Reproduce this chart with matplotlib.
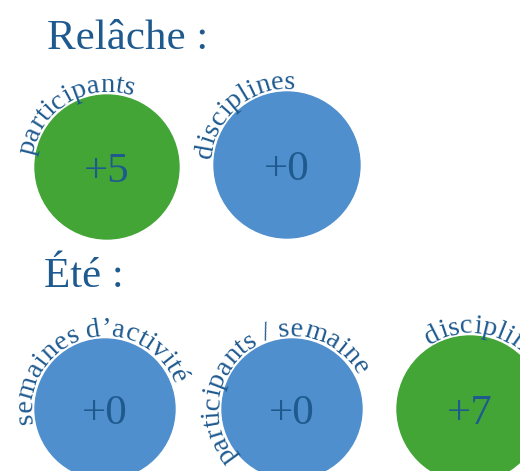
import numpy as np
import matplotlib
matplotlib.use("Agg")
from matplotlib import pyplot as plt
from matplotlib.patches import Circle
from matplotlib.font_manager import FontProperties

# Data
sections = ["Relâche :", "Été :"]
relache_labels = ["participants", "disciplines"]
relache_values = [5, 0]
ete_labels = ["semaines d\u2019activité", "participants / semaine", "disciplines"]
ete_values = [0, 0, 7]

# Layout (pixels, y down)
title_pos = [(47, 49), (44, 287)]
relache_centers = [(107, 167), (287, 165)]
relache_radii = [72, 73]
relache_start = [166, 170]
ete_centers = [(105, 409), (292, 409), (470, 409)]
ete_radii = [70, 70, 73]
ete_start = [187, 216, 117]

GREEN = "#42a536"
BLUE = "#4f8fcd"
TEXT = "#1f5a8f"
FONT = "Liberation Serif"

fig = plt.figure(figsize=(5.2, 4.71), dpi=100)
ax = fig.add_axes([0, 0, 1, 1])
ax.set_xlim(0, 520)
ax.set_ylim(471, 0)
ax.axis("off")

renderer = fig.canvas.get_renderer()
label_prop = FontProperties(family=FONT, size=20.5)


def text_width(s):
    w, h, d = renderer.get_text_width_height_descent(s, label_prop, ismath=False)
    return w


def curved_label(text, cx, cy, rb, start_deg, tracking=0.0):
    widths = []
    for ch in text:
        if ch == " ":
            widths.append(text_width("a a") - text_width("aa"))
        else:
            widths.append(text_width(ch))
    pos = 0.0
    first_half = widths[0] / 2
    for ch, w in zip(text, widths):
        s = pos + w / 2 - first_half
        theta = np.radians(start_deg) - s / rb
        x = cx + rb * np.cos(theta)
        y = cy - rb * np.sin(theta)
        if ch != " ":
            ax.text(x, y, ch, fontproperties=label_prop, color=TEXT,
                    ha="center", va="baseline",
                    rotation=np.degrees(theta) - 90, rotation_mode="anchor")
        pos += w + tracking


def bubble(label, value, center, r, start):
    cx, cy = center
    color = GREEN if value > 0 else BLUE
    ax.add_patch(Circle((cx, cy), r, color=color, zorder=1))
    ax.text(cx, cy, f"+{value}", family=FONT, size=31, color=TEXT,
            ha="center", va="center_baseline", zorder=2)
    curved_label(label, cx, cy, r + 3, start)


for (tx, ty), title in zip(title_pos, sections):
    ax.text(tx, ty, title, family=FONT, size=31, color=TEXT,
            ha="left", va="baseline")

for lab, val, c, r, st in zip(relache_labels, relache_values,
                              relache_centers, relache_radii, relache_start):
    bubble(lab, val, c, r, st)

for lab, val, c, r, st in zip(ete_labels, ete_values,
                              ete_centers, ete_radii, ete_start):
    bubble(lab, val, c, r, st)

fig.savefig("out.png", dpi=100)
